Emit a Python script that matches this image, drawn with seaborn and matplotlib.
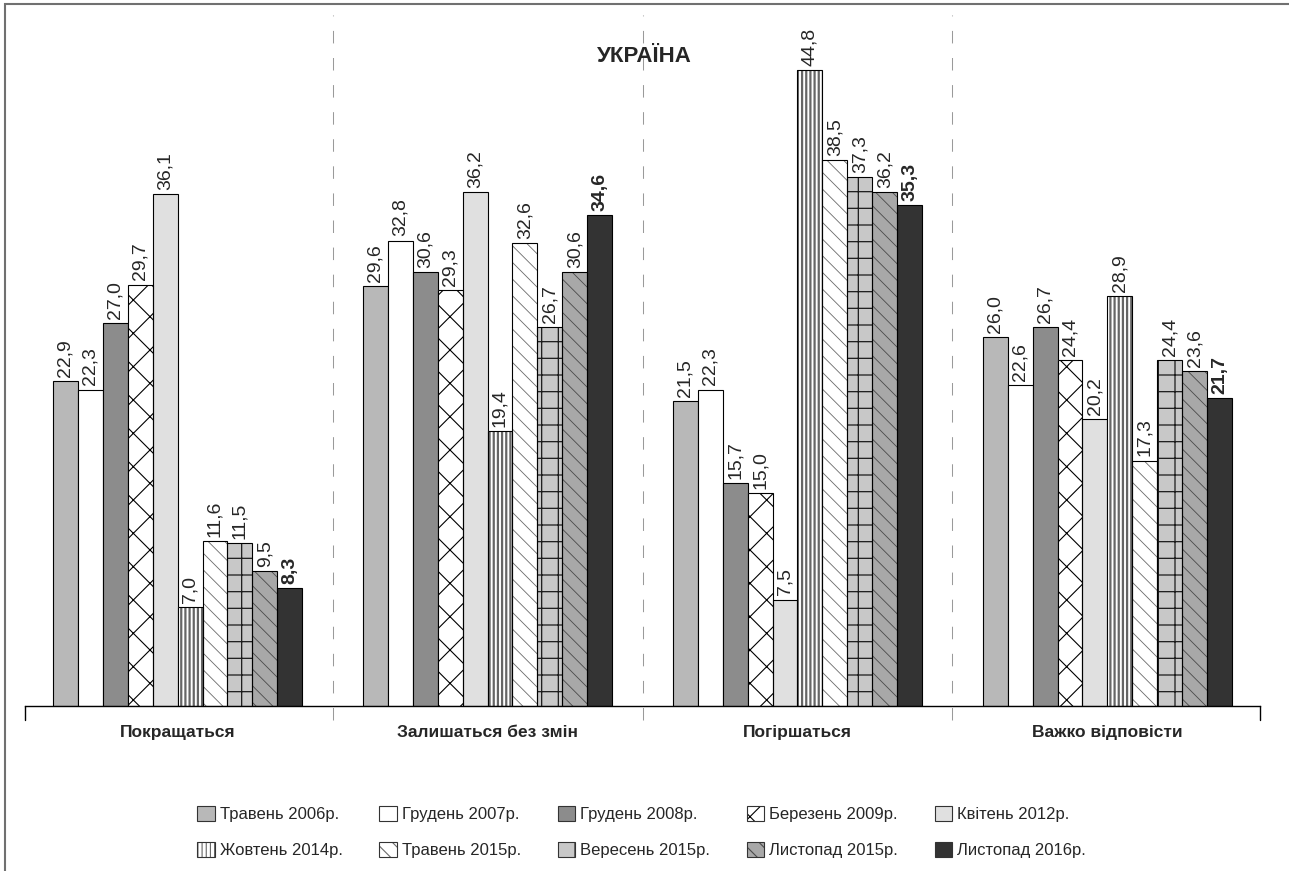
import matplotlib
matplotlib.use("Agg")
import pandas as pd
import matplotlib.pyplot as plt
import seaborn as sns
from matplotlib.patches import Patch, Rectangle

# --- data ---
categories = ["Покращаться", "Залишаться без змін", "Погіршаться", "Важко відповісти"]
periods = ["Травень 2006р.", "Грудень 2007р.", "Грудень 2008р.", "Березень 2009р.",
           "Квітень 2012р.", "Жовтень 2014р.", "Травень 2015р.", "Вересень 2015р.",
           "Листопад 2015р.", "Листопад 2016р."]
may_2006 = [22.9, 29.6, 21.5, 26.0]
dec_2007 = [22.3, 32.8, 22.3, 22.6]
dec_2008 = [27.0, 30.6, 15.7, 26.7]
mar_2009 = [29.7, 29.3, 15.0, 24.4]
apr_2012 = [36.1, 36.2, 7.5, 20.2]
oct_2014 = [7.0, 19.4, 44.8, 28.9]
may_2015 = [11.6, 32.6, 38.5, 17.3]
sep_2015 = [11.5, 26.7, 37.3, 24.4]
nov_2015 = [9.5, 30.6, 36.2, 23.6]
nov_2016 = [8.3, 34.6, 35.3, 21.7]
series = [may_2006, dec_2007, dec_2008, mar_2009, apr_2012,
          oct_2014, may_2015, sep_2015, nov_2015, nov_2016]

# --- styles ---
face = ["#b8b8b8", "#ffffff", "#8c8c8c", "#ffffff", "#e0e0e0",
        "#ffffff", "#ffffff", "#c8c8c8", "#a8a8a8", "#333333"]
hatches = [None, None, None, "x", None, "||||", "\\\\", "+", "\\\\", None]
hatch_col = [None, None, None, "#000000", None, "#666666", "#6a6a6a", "#1a1a1a", "#4a4a4a", None]
hatch_lw = [0.8, 0.8, 0.8, 0.8, 0.8, 1.6, 0.6, 0.9, 0.6, 0.8]

rows = []
for p, vals in zip(periods, series):
    for c, v in zip(categories, vals):
        rows.append({"cat": c, "period": p, "value": v})
df = pd.DataFrame(rows)

sns.set_style("white")
plt.rcParams["font.family"] = ["Liberation Sans", "DejaVu Sans"]
plt.rcParams["hatch.linewidth"] = 0.8

fig = plt.figure(figsize=(12.89, 8.71), dpi=100)
ax = fig.add_axes([25 / 1289, 1 - 706 / 871, 1235 / 1289, 691 / 871])

sns.barplot(data=df, x="cat", y="value", hue="period", order=categories,
            hue_order=periods, palette=dict(zip(periods, face)), width=0.806,
            gap=0, errorbar=None, edgecolor="black", linewidth=0.8,
            legend=False, ax=ax, saturation=1)

for i, cont in enumerate(ax.containers):
    for bar in cont:
        if hatches[i]:
            bar.set_hatch(hatches[i])
            bar.set_edgecolor(hatch_col[i])
            bar.set_linewidth(0)
            if hasattr(bar, "set_hatch_linewidth"):
                bar.set_hatch_linewidth(hatch_lw[i])
            ax.add_patch(Rectangle(bar.get_xy(), bar.get_width(), bar.get_height(),
                                   fill=False, ec="black", lw=0.8, zorder=bar.get_zorder() + 0.1))
    labels = [f"{v:.1f}".replace(".", ",") for v in cont.datavalues]
    ax.bar_label(cont, labels=labels, rotation=90, padding=3, fontsize=14,
                 fontweight="bold" if i == len(periods) - 1 else "normal")

ax.set_xlim(-0.492, 3.492)
ax.set_ylim(0, 48.7)
ax.set_xlabel("")
ax.set_ylabel("")
ax.set_yticks([])
ax.set_xticks(range(len(categories)))
ax.set_xticklabels(categories, fontsize=12.5, fontweight="bold")
ax.tick_params(axis="x", length=0, pad=14)
for s in ["top", "left", "right"]:
    ax.spines[s].set_visible(False)
ax.spines["bottom"].set_color("black")
ax.spines["bottom"].set_linewidth(1)

# separators
for x in [0.5, 1.5, 2.5]:
    ax.axvline(x, ymin=-0.02, ymax=1, color="#9a9a9a", lw=0.75,
               linestyle=(0, (12, 14)), clip_on=False)
for x in ax.get_xlim():
    ax.axvline(x, ymin=-0.02, ymax=0, color="black", lw=1, clip_on=False)

fig.text(0.5, 1 - 57 / 871, "УКРАЇНА", ha="center", va="center",
         fontsize=16, fontweight="bold")

# legend
handles = []
for i in range(len(periods)):
    if hatches[i]:
        hp = Patch(facecolor=face[i], hatch=hatches[i], edgecolor=hatch_col[i], lw=0)
        if hasattr(hp, "set_hatch_linewidth"):
            hp.set_hatch_linewidth(hatch_lw[i])
        handles.append((hp, Patch(fill=False, edgecolor="#333333", lw=0.8)))
    else:
        handles.append(Patch(facecolor=face[i], edgecolor="#333333", lw=0.8))
order = [0, 5, 1, 6, 2, 7, 3, 8, 4, 9]
fig.legend([handles[k] for k in order], [periods[k] for k in order], ncol=5,
           loc="center", bbox_to_anchor=(0.4977, 1 - 832 / 871), frameon=False,
           fontsize=12, handlelength=1.05, handleheight=1.05,
           handletextpad=0.3, columnspacing=2.2, labelspacing=1.2)

# frame round the figure
fig.add_artist(Rectangle((5 / 1289, -0.1), 1.2, 1.1 - 4 / 871,
                         transform=fig.transFigure, fill=False, ec="#707070", lw=1.5))

fig.savefig("out.png", dpi=100)
